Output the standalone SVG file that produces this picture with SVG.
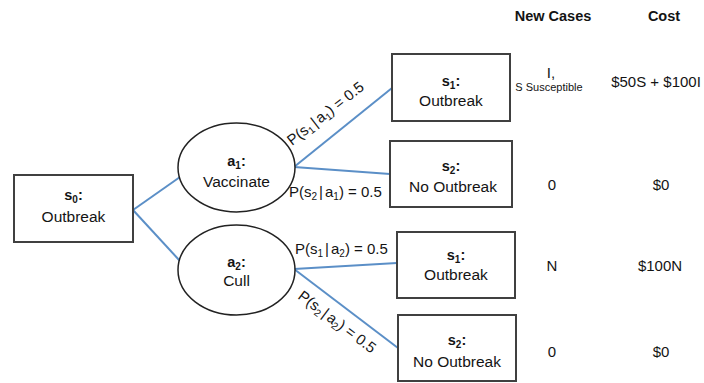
<svg xmlns="http://www.w3.org/2000/svg" width="704" height="383" viewBox="0 0 704 383">
<style>
text{font-family:"Liberation Sans",Arial,sans-serif;fill:#141414;text-anchor:middle}
.b{font-weight:bold;font-size:14.5px}
.t{font-size:15.5px}
.p{font-size:15px;text-anchor:start}
.s{font-size:10px}
.box{fill:#fff;stroke:#404040;stroke-width:2}
.ell{fill:#fff;stroke:#222;stroke-width:1.5}
.con{stroke:#5b8fc7;stroke-width:2;fill:none}
.v{font-size:15px}
</style>
<rect width="704" height="383" fill="#fff"/>
<g id="connectors">
<line class="con" x1="133" y1="210" x2="180" y2="177"/>
<line class="con" x1="133" y1="210" x2="180" y2="261"/>
<line class="con" x1="294" y1="167" x2="392" y2="88"/>
<line class="con" x1="294" y1="167" x2="390" y2="174"/>
<line class="con" x1="294" y1="269" x2="397" y2="263"/>
<line class="con" x1="294" y1="269" x2="398" y2="348"/>
<text class="p" transform="translate(292,146) rotate(-38)">P(s<tspan class="s" dy="3">1</tspan><tspan dy="-3" dx="2">|</tspan><tspan dx="2">a</tspan><tspan class="s" dy="3">1</tspan><tspan dy="-3">) = 0.5</tspan></text>
<text class="p" x="289" y="197">P(s<tspan class="s" dy="3">2</tspan><tspan dy="-3" dx="2">|</tspan><tspan dx="2">a</tspan><tspan class="s" dy="3">1</tspan><tspan dy="-3">) = 0.5</tspan></text>
<text class="p" x="295" y="254">P(s<tspan class="s" dy="3">1</tspan><tspan dy="-3" dx="2">|</tspan><tspan dx="2">a</tspan><tspan class="s" dy="3">2</tspan><tspan dy="-3">) = 0.5</tspan></text>
<text class="p" transform="translate(297,298) rotate(37)">P(s<tspan class="s" dy="3">2</tspan><tspan dy="-3" dx="2">|</tspan><tspan dx="2">a</tspan><tspan class="s" dy="3">2</tspan><tspan dy="-3">) = 0.5</tspan></text>
</g>
<g id="s0">
<rect class="box" x="14" y="175" width="119" height="67"/>
<text class="b" x="73.5" y="200">s<tspan class="s" dy="3">0</tspan><tspan dy="-3">:</tspan></text>
<text class="t" x="73.5" y="222">Outbreak</text>
</g>
<g id="a1">
<ellipse class="ell" cx="236.5" cy="167.5" rx="58.5" ry="44.5"/>
<text class="b" x="236.5" y="166">a<tspan class="s" dy="3">1</tspan><tspan dy="-3">:</tspan></text>
<text class="t" x="236.5" y="187">Vaccinate</text>
</g>
<g id="a2">
<ellipse class="ell" cx="236.5" cy="270" rx="58.5" ry="45"/>
<text class="b" x="236.5" y="267">a<tspan class="s" dy="3">2</tspan><tspan dy="-3">:</tspan></text>
<text class="t" x="236.5" y="286">Cull</text>
</g>
<g id="s1_a1">
<rect class="box" x="392" y="54" width="118" height="67"/>
<text class="b" x="451" y="86">s<tspan class="s" dy="3">1</tspan><tspan dy="-3">:</tspan></text>
<text class="t" x="451" y="106">Outbreak</text>
</g>
<g id="s2_a1">
<rect class="box" x="390" y="141" width="122" height="66"/>
<text class="b" x="451" y="171">s<tspan class="s" dy="3">2</tspan><tspan dy="-3">:</tspan></text>
<text class="t" x="453" y="192">No Outbreak</text>
</g>
<g id="s1_a2">
<rect class="box" x="397" y="232" width="118" height="66"/>
<text class="b" x="456" y="260">s<tspan class="s" dy="3">1</tspan><tspan dy="-3">:</tspan></text>
<text class="t" x="456" y="280">Outbreak</text>
</g>
<g id="s2_a2">
<rect class="box" x="398" y="315" width="118" height="66"/>
<text class="b" x="457" y="345">s<tspan class="s" dy="3">2</tspan><tspan dy="-3">:</tspan></text>
<text class="t" x="457" y="367">No Outbreak</text>
</g>
<g id="table">
<text class="b" x="553" y="21">New Cases</text>
<text class="b" x="664" y="21">Cost</text>
<text class="v" x="551" y="78">I,</text>
<text x="549" y="91" style="font-size:11px">S Susceptible</text>
<text class="v" x="656" y="87">$50S + $100I</text>
<text class="v" x="552" y="190">0</text>
<text class="v" x="661" y="190">$0</text>
<text class="v" x="552" y="271">N</text>
<text class="v" x="660" y="271">$100N</text>
<text class="v" x="552" y="357">0</text>
<text class="v" x="661" y="357">$0</text>
</g>
</svg>
